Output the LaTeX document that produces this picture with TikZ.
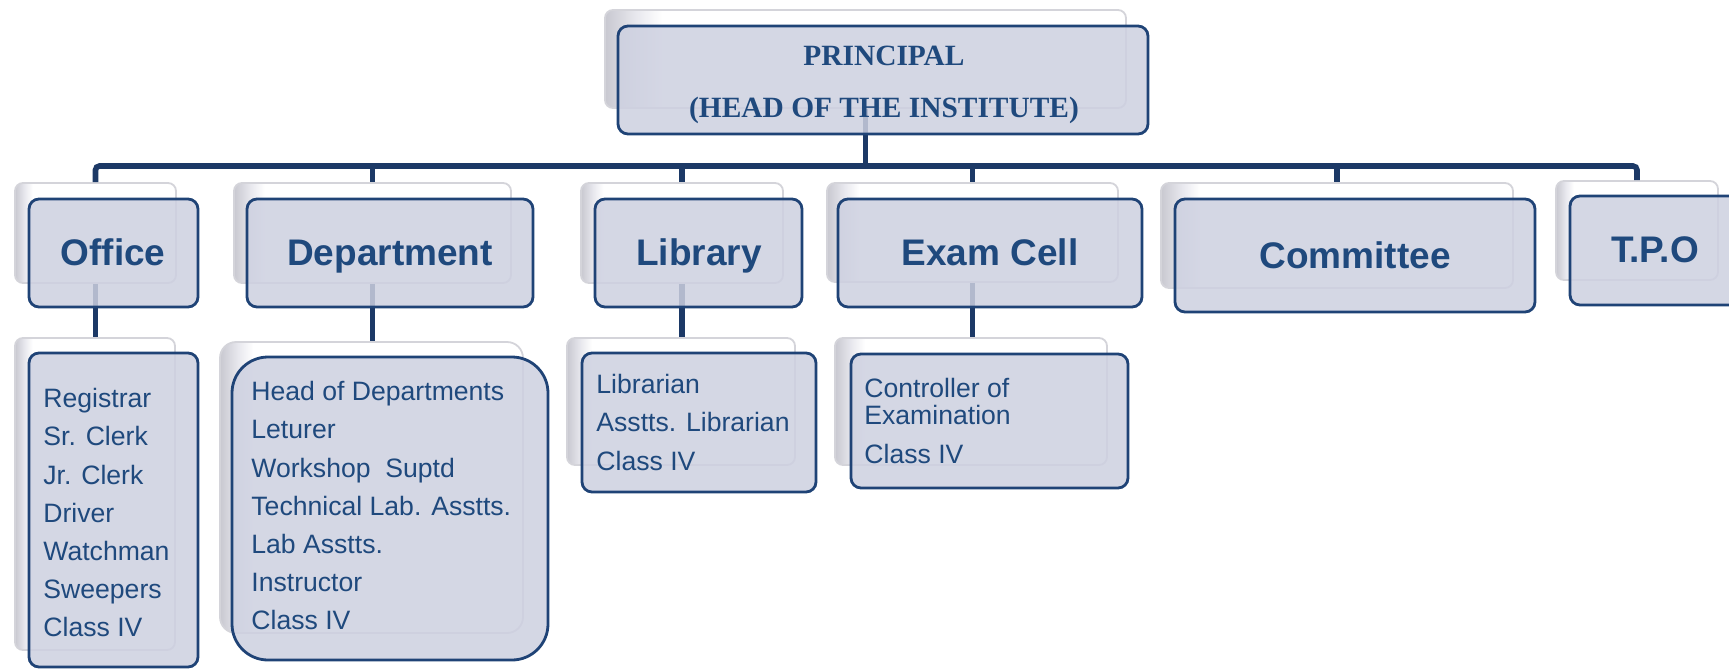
\documentclass[tikz,border=0pt]{standalone}
\usepackage{fontspec}
\setmainfont{Liberation Sans}
\newfontfamily\headserif{Liberation Serif}
\usetikzlibrary{fit}
\definecolor{boxfill}{RGB}{205,208,224}
\definecolor{frontline}{RGB}{31,67,118}
\definecolor{txt}{RGB}{31,73,125}
\definecolor{linkcol}{RGB}{28,57,102}
\definecolor{backline}{RGB}{212,212,218}
\definecolor{bevelgray}{RGB}{200,200,208}
\definecolor{bevelmid}{RGB}{232,232,238}
\pgfdeclarehorizontalshading{bevel}{100bp}{color(0bp)=(bevelgray); color(25bp)=(bevelgray); color(28bp)=(bevelmid); color(30.5bp)=(white); color(100bp)=(white)}
\begin{document}
\begin{tikzpicture}[x=0.5pt,y=-0.5pt,
  backbox/.style={draw=backline, line width=0.9pt, rounded corners=4pt, shade, shading=bevel, inner sep=0pt},
  frontbox/.style={draw=frontline, line width=1.4pt, rounded corners=5pt, fill=boxfill, fill opacity=0.85, text opacity=1, inner sep=0pt},
  label/.style={inner sep=0pt, text=txt, font=\fontsize{18.5}{22}\selectfont\bfseries},
  headtext/.style={inner sep=0pt, text=txt, anchor=base, font=\headserif\bfseries\fontsize{14.7}{26}\selectfont},
  listtext/.style={anchor=north west, inner sep=0pt, align=left, text=txt, font=\fontsize{13.3}{19.1}\selectfont},
  linkline/.style={draw=linkcol, line width=2.8pt}]
\clip (0,0) rectangle (1729,670);
\fill[white] (0,0) rectangle (1729,670);
% back boxes
\node[backbox, fit={(605,10) (1126,108)}] (principalB) {};
\node[backbox, fit={(15,183) (176,283)}] (officeB) {};
\node[backbox, fit={(234,183) (511,283)}] (deptB) {};
\node[backbox, fit={(581,183) (783,283)}] (libB) {};
\node[backbox, fit={(827,183) (1118,282)}] (examB) {};
\node[backbox, fit={(1161,183) (1513,288)}] (commB) {};
\node[backbox, fit={(1556,181) (1718,280)}] (tpoB) {};
\node[backbox, fit={(15,338) (175,650)}] (officeLB) {};
\node[backbox, rounded corners=8pt, fit={(220,342) (523,633)}] (deptLB) {};
\node[backbox, fit={(567,338) (795,465)}] (libLB) {};
\node[backbox, fit={(835,338) (1107,465)}] (examLB) {};
% connectors
\coordinate (bus) at (0,166);
\draw[linkline] (principalB.south) -- (principalB.south |- bus);
\draw[linkline, rounded corners=2pt] (officeB.north) -- (officeB.north |- bus) -- (tpoB.north |- bus) -- (tpoB.north);
\draw[linkline] (deptB.north |- bus) -- (deptB.north);
\draw[linkline] (libB.north |- bus) -- (libB.north);
\draw[linkline] (examB.north |- bus) -- (examB.north);
\draw[linkline] (commB.north |- bus) -- (commB.north);
\draw[linkline] (officeB.south) -- (officeB.south |- officeLB.north);
\draw[linkline] (deptB.south) -- (deptB.south |- deptLB.north);
\draw[linkline] (libB.south) -- (libB.south |- libLB.north);
\draw[linkline] (examB.south) -- (examB.south |- examLB.north);
% front boxes
\node[frontbox, fit={(618,26) (1148,134)}] (principal) {};
\node[frontbox, fit={(29,199) (198,307)}] (office) {};
\node[frontbox, fit={(247,199) (533,307)}] (dept) {};
\node[frontbox, fit={(595,199) (802,307)}] (lib) {};
\node[frontbox, fit={(838,199) (1142,307)}] (exam) {};
\node[frontbox, fit={(1175,199) (1535,312)}] (comm) {};
\node[frontbox, fit={(1570,196) (1760,305)}] (tpo) {};
\node[frontbox, fit={(29,353) (198,667)}] (officeL) {};
\node[frontbox, rounded corners=18pt, fit={(232,357) (548,660)}] (deptL) {};
\node[frontbox, fit={(582,353) (816,492)}] (libL) {};
\node[frontbox, fit={(851,354) (1128,488)}] (examL) {};
% labels
\node[headtext] (principalT1) at (884,65) {PRINCIPAL};
\node[headtext] (principalT2) at (884,117) {(HEAD OF THE INSTITUTE)};
\node[label, anchor=base] (officeT) at (113,265) {Office};
\node[label, anchor=base] (deptT) at (390,265) {Department};
\node[label, anchor=base] (libT) at (699,265) {Library};
\node[label, anchor=base] (examT) at (990,265) {Exam Cell};
\node[label, anchor=base] (commT) at (1355,268) {Committee};
\node[label, anchor=base] (tpoT) at (1655,262) {T.P.O};
% list texts
\node[listtext] (officeTxt) at (43,388) {Registrar\\Sr. Clerk\\Jr. Clerk\\Driver\\Watchman\\Sweepers\\Class IV};
\node[listtext] (deptTxt) at (251,381) {Head of Departments\\Leturer\\Workshop\ \ Suptd\\Technical Lab. Asstts.\\Lab Asstts.\\Instructor\\Class IV};
\node[listtext] (libTxt) at (596,374) {Librarian\\Asstts. Librarian\\Class IV};
\node[listtext, font=\fontsize{13.3}{13.6}\selectfont] (examTxt) at (864,378) {Controller of\\Examination\\[5.5pt]Class IV};
\end{tikzpicture}
\end{document}
